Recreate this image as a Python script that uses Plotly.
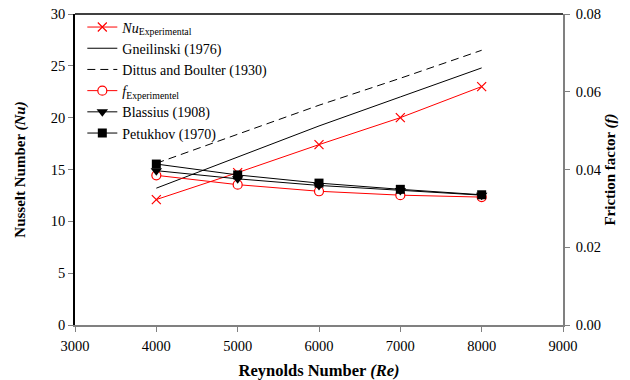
import plotly.graph_objects as go

reynolds = [4000, 5000, 6000, 7000, 8000]

nu_experimental = [12.1, 14.7, 17.4, 20.0, 23.0]
nu_gnielinski = [13.2, 16.2, 19.2, 22.0, 24.8]
nu_dittus_boelter = [15.6, 18.4, 21.2, 23.8, 26.5]

f_experimental = [0.0385, 0.0361, 0.0344, 0.0334, 0.0329]
f_blasius = [0.0397, 0.0376, 0.0359, 0.0346, 0.0334]
f_petukhov = [0.0414, 0.0386, 0.0365, 0.0349, 0.0335]

FONT = "'Liberation Serif', 'DejaVu Serif', serif"
RED = "#ff0000"

fig = go.Figure()

fig.add_trace(go.Scatter(
    x=reynolds, y=nu_experimental, mode="lines+markers",
    name="<i>Nu</i><sub>Experimental</sub>",
    line=dict(color=RED, width=1),
    marker=dict(symbol="x-thin-open", size=9, color=RED, line=dict(color=RED, width=1.2)),
))
fig.add_trace(go.Scatter(
    x=reynolds, y=nu_gnielinski, mode="lines",
    name="Gneilinski (1976)",
    line=dict(color="black", width=1),
))
fig.add_trace(go.Scatter(
    x=reynolds, y=nu_dittus_boelter, mode="lines",
    name="Dittus and Boulter (1930)",
    line=dict(color="black", width=1, dash="8px,5px"),
))
fig.add_trace(go.Scatter(
    x=reynolds, y=f_experimental, mode="lines+markers", yaxis="y2",
    name="<i>f</i><sub>Experimentel</sub>",
    line=dict(color=RED, width=1),
    marker=dict(symbol="circle", size=9, color="white", line=dict(color=RED, width=1.2)),
))
fig.add_trace(go.Scatter(
    x=reynolds, y=f_blasius, mode="lines+markers", yaxis="y2",
    name="Blassius (1908)",
    line=dict(color="black", width=1),
    marker=dict(symbol="triangle-down", size=10, color="black"),
))
fig.add_trace(go.Scatter(
    x=reynolds, y=f_petukhov, mode="lines+markers", yaxis="y2",
    name="Petukhov (1970)",
    line=dict(color="black", width=1),
    marker=dict(symbol="square", size=9, color="black"),
))

fig.update_layout(
    width=630, height=380,
    margin=dict(l=75, r=67, t=13, b=55),
    paper_bgcolor="white", plot_bgcolor="white",
    font=dict(family=FONT, size=14, color="black"),
    showlegend=True,
    legend=dict(
        x=0.015, y=1.005, xanchor="left", yanchor="top",
        bgcolor="rgba(0,0,0,0)", borderwidth=0,
        font=dict(family=FONT, size=14, color="black"),
        tracegroupgap=0, itemwidth=30,
    ),
    xaxis=dict(
        range=[3000, 9000], tickvals=[3000, 4000, 5000, 6000, 7000, 8000, 9000],
        showgrid=False, zeroline=False, automargin=False,
        showline=True, linecolor="#808080", linewidth=1.5,
        ticks="outside", ticklen=5, tickcolor="#808080",
        ticklabelstandoff=2,
        tickfont=dict(family=FONT, size=14.5),
        title=dict(text="<b>Reynolds Number <i>(Re)</i></b>", font=dict(family=FONT, size=16.5), standoff=14),
    ),
    yaxis=dict(
        range=[0, 30], tickvals=[0, 5, 10, 15, 20, 25, 30],
        showgrid=False, zeroline=False, automargin=False,
        showline=True, linecolor="black", linewidth=1.5,
        ticks="outside", ticklen=5, tickcolor="#808080",
        tickfont=dict(family=FONT, size=14.5),
        title=dict(text="<b>Nusselt Number <i>(Nu)</i></b>", font=dict(family=FONT, size=15), standoff=22),
    ),
    yaxis2=dict(
        range=[0, 0.08], tickvals=[0, 0.02, 0.04, 0.06, 0.08], tickformat=".2f",
        overlaying="y", side="right",
        showgrid=False, zeroline=False, automargin=False,
        showline=True, linecolor="#808080", linewidth=1.5,
        ticks="outside", ticklen=5, tickcolor="#808080",
        ticklabelstandoff=3,
        tickfont=dict(family=FONT, size=14.5),
        title=dict(text="<b>Friction factor <i>(f)</i></b>", font=dict(family=FONT, size=15), standoff=4),
    ),
    shapes=[dict(type="line", xref="paper", yref="paper", x0=0, x1=1, y0=1, y1=1,
                 line=dict(color="black", width=1.5))],
)

fig.write_html("out.html")
